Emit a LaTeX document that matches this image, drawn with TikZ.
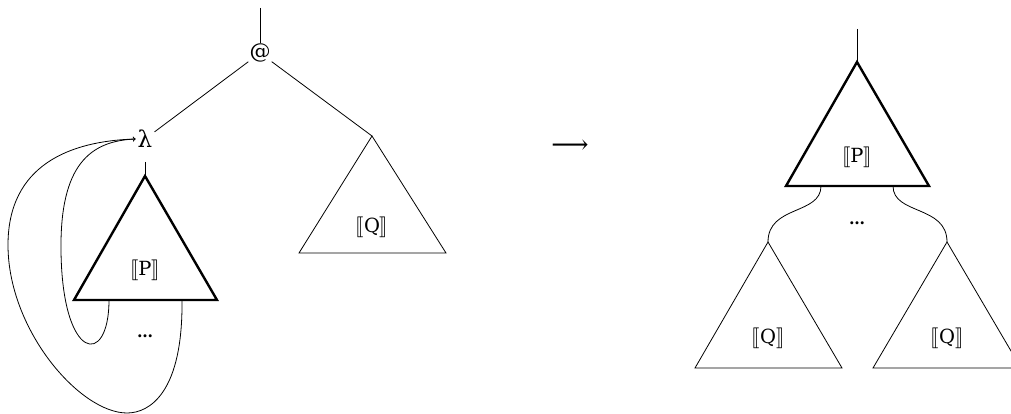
\documentclass[tikz,border=0pt]{standalone}
\usepackage{fontspec}
\usepackage{stmaryrd}
\setmainfont{DejaVu Serif}
\newcommand{\semb}[1]{$\llbracket$#1$\rrbracket$}
\begin{document}
\begin{tikzpicture}[x=1pt,y=-1pt,
  thinline/.style={line width=0.8pt},
  thickline/.style={line width=2.4pt, line join=miter},
  lbl/.style={font=\fontsize{19.5}{22}\selectfont, inner sep=1pt},
  dotsnode/.style={font=\fontsize{16}{18}\selectfont\bfseries, inner sep=0pt}]
\useasboundingbox (0,0) rectangle (1011,414);
% ---------- left side ----------
\coordinate (topL) at (260,8);
\node[lbl, font=\fontsize{21}{24}\selectfont] (app) at (260,53) {@};
\node[lbl, font=\fontsize{23}{26}\selectfont, inner sep=2pt] (lam) at (145,139) {λ};
\coordinate (lamS) at (145,162);
% P triangle
\coordinate (Ptop) at (145,176);
\coordinate (Pl) at (74,300);
\coordinate (Pr) at (217,300);
\node[lbl] (Plbl) at (145,270) {\semb{P}};
% Q triangle
\coordinate (Qtop) at (372,136);
\coordinate (Ql) at (299,253);
\coordinate (Qr) at (446,253);
\node[lbl] (Qlbl) at (372,227) {\semb{Q}};
\node[dotsnode] (dotsL) at (145,336) {…};
\coordinate (in1) at (109,300);
\coordinate (in2) at (182,300);

\draw[thinline] (topL) -- (app);
\draw[thinline] (app) -- (lam);
\draw[thinline] (app) -- (Qtop);
\draw[thinline] (lamS) -- (Ptop);
\draw[thickline] (Ptop) -- (Pl) -- (Pr) -- cycle;
\draw[thinline] (Qtop) -- (Ql) -- (Qr) -- cycle;
\draw[thinline,->] (in1) .. controls (109,368) and (62,362) .. (61,250)
   .. controls (60,165) and (90,141) .. (lam.west);
\draw[thinline,->] (in2) .. controls (183,392) and (150,413) .. (127,413)
   .. controls (80,413) and (8,330) .. (8,245)
   .. controls (8,165) and (70,141) .. (lam.west);

% ---------- arrow ----------
\node[font=\fontsize{26}{28}\selectfont, inner sep=0pt] (arr) at (570,147) {⟶};

% ---------- right side ----------
\coordinate (topR) at (857,29);
\coordinate (P2top) at (857,62);
\coordinate (P2l) at (786,186);
\coordinate (P2r) at (929,186);
\node[lbl] (P2lbl) at (857,157) {\semb{P}};
\node[dotsnode] (dotsR) at (857,223) {…};
\coordinate (o1) at (821,186);
\coordinate (o2) at (893,186);
\coordinate (Q2top) at (768,242);
\coordinate (Q2l) at (695,368);
\coordinate (Q2r) at (842,368);
\node[lbl] (Q2lbl) at (768,338) {\semb{Q}};
\coordinate (Q3top) at (947,242);
\coordinate (Q3l) at (873,368);
\coordinate (Q3r) at (1021,368);
\node[lbl] (Q3lbl) at (947,338) {\semb{Q}};

\draw[thinline] (topR) -- (P2top);
\draw[thickline] (P2top) -- (P2l) -- (P2r) -- cycle;
\draw[thinline] (o1) .. controls (821,215) and (768,205) .. (Q2top);
\draw[thinline] (o2) .. controls (893,215) and (947,205) .. (Q3top);
\draw[thinline] (Q2top) -- (Q2l) -- (Q2r) -- cycle;
\draw[thinline] (Q3top) -- (Q3l) -- (Q3r) -- cycle;
\end{tikzpicture}
\end{document}
